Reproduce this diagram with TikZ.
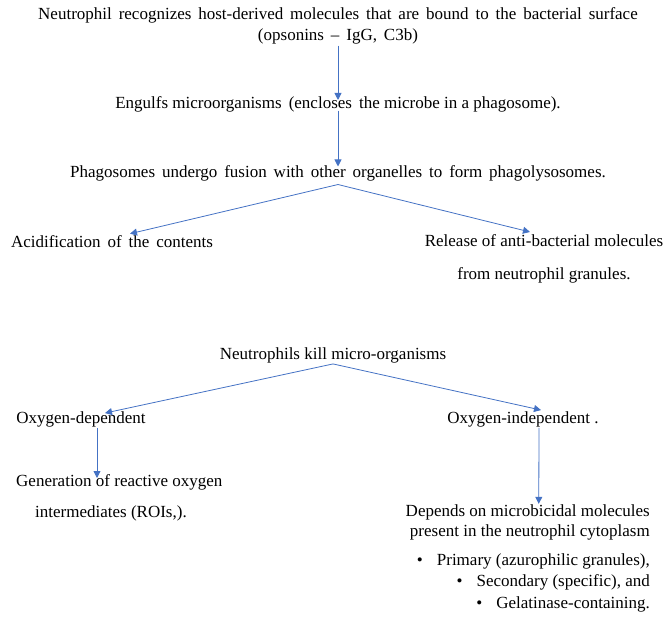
\documentclass[tikz,border=0pt]{standalone}
\usepackage{fontspec}
\setmainfont{Liberation Serif}
\usetikzlibrary{arrows.meta}
\definecolor{flowblue}{HTML}{4472C4}
\tikzset{
  txt/.style={inner sep=1pt, font=\fontsize{17}{20}\selectfont},
  widetxt/.style={txt, execute at begin node={\spaceskip=6.9pt plus 2pt minus 1pt\relax}},
  flow/.style={draw=flowblue, line width=0.8pt, -{Triangle[length=7pt,width=7pt]}},
}
\begin{document}
\begin{tikzpicture}[x=1pt,y=-1pt]
            \useasboundingbox (0,0) rectangle (670,617);

            % Phagocytosis
            \node[widetxt, align=center, font=\fontsize{17}{21}\selectfont] (recog) at (338,26) {Neutrophil recognizes host-derived molecules that are bound to the bacterial surface\\(opsonins -- IgG, C3b)};
            \node[txt] (engulf) at (338,104) {Engulfs microorganisms\, (encloses\, the microbe in a phagosome).};
            \node[widetxt] (phago) at (338,173) {Phagosomes undergo fusion with other organelles to form phagolysosomes.};
            \node[widetxt] (acid) at (112,242) {Acidification of the contents};
            \node[txt, align=center] (release) at (544,258.5) {Release of anti-bacterial molecules\\[13pt]from neutrophil granules.};

            \draw[flow] (recog.south) -- ([yshift=-5pt]engulf.north);
            \draw[flow] ([yshift=2.5pt]engulf.south) -- ([yshift=-2.5pt]phago.north);
            \draw[flow] ([yshift=-2.5pt]phago.south) -- ([xshift=18pt,yshift=1pt]acid.north);
            \draw[flow] ([yshift=-2.5pt]phago.south) -- ([xshift=-14pt,yshift=1pt]release.north);

            % Killing
            \node[txt] (kill) at (333,355) {Neutrophils kill micro-organisms};
            \node[txt] (odep) at (81,419) {Oxygen-dependent};
            \node[txt] (oind) at (523,419) {Oxygen-independent .};
            \node[txt, align=left, anchor=west] (roi) at (15,497.5) {Generation of reactive oxygen\\[11pt]\hspace*{19pt}intermediates (ROIs,).};
            \node[txt, align=right, anchor=east, font=\fontsize{17}{19.5}\selectfont] (depends) at (651,522.5) {Depends on microbicidal molecules\\present in the neutrophil cytoplasm};
            \node[txt, align=right, anchor=north east, font=\fontsize{17}{21.5}\selectfont] (granules) at (651,552.5) {\textbullet\hspace*{14pt}Primary (azurophilic granules),\\\textbullet\hspace*{14pt}Secondary (specific), and\\\textbullet\hspace*{14pt}Gelatinase-containing.};

            \draw[flow] (kill.south) -- ([xshift=24pt,yshift=-3pt]odep.north);
            \draw[flow] (kill.south) -- ([xshift=18pt]oind.north);
            \draw[flow] ([xshift=16pt]odep.south) -- ([xshift=16pt,yshift=-5pt]odep.south |- roi.north);
            \draw[flow] ([xshift=16pt]oind.south) -- ([xshift=11pt]depends.north);
        \end{tikzpicture}
\end{document}
